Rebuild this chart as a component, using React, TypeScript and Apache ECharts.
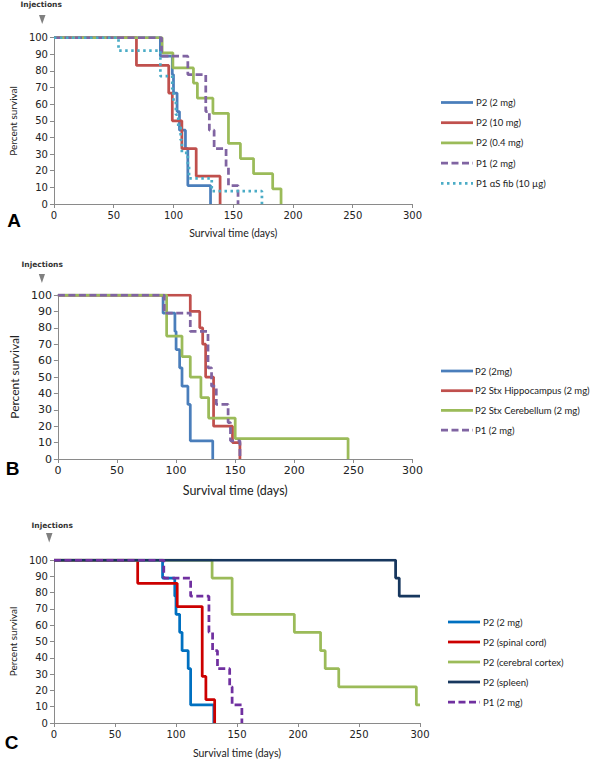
import React, { useEffect, useRef } from "react";
import * as echarts from "echarts";

// ---------- Data (event times in days, survival in %) ----------
const xTicks = [0, 50, 100, 150, 200, 250, 300];
const yTicks = [0, 10, 20, 30, 40, 50, 60, 70, 80, 90, 100];

// Shared P2 (2 mg) curve
const p2_2mg_t = [89, 99, 100, 103, 105, 110, 112, 131];
const p2_2mg_s = [88.9, 77.8, 66.7, 55.6, 44.4, 33.3, 11.1, 0];
// Shared P1 (2 mg) curve
const p1_2mg_t = [90, 112, 127, 130, 134, 144, 146, 154];
const p1_2mg_s = [88.9, 77.8, 55.6, 44.4, 33.3, 22.2, 11.1, 0];

// Panel A
const a_p2_10mg_t = [69, 96, 99, 107, 119, 139];
const a_p2_10mg_s = [83.3, 66.7, 50, 33.3, 16.7, 0];
const a_p2_04mg_t = [90.5, 99.5, 116.7, 120, 133, 146, 156, 167, 183, 190];
const a_p2_04mg_s = [90.9, 81.8, 72.7, 63.6, 54.5, 36.4, 27.3, 18.2, 9.1, 0];
const a_p1fib_t = [54, 89, 99, 100, 102, 104, 106, 107, 112, 113, 132, 174];
const a_p1fib_s = [92.3, 76.9, 69.2, 61.5, 53.8, 46.2, 38.5, 30.8, 23.1, 15.4, 7.7, 0];

// Panel B
const b_hippo_t = [112, 120, 122.5, 125, 131.7, 147.7, 154];
const b_hippo_s = [90, 80, 70, 50, 20, 10, 0];
const b_cereb_t = [92, 105, 112, 121, 127.5, 150, 245.5];
const b_cereb_s = [75, 62.5, 50, 37.5, 25, 12.5, 0];

// Panel C
const c_spinal_t = [68.6, 101, 121.5, 124.5, 131.7];
const c_spinal_s = [85.7, 71.4, 28.6, 14.3, 0];
const c_cortex_t = [129.6, 146, 197, 218.5, 222.3, 233.4, 297, 300];
const c_cortex_s = [88.9, 66.7, 55.6, 44.4, 33.3, 22.2, 11.1, 11.1];
const c_spleen_t = [280, 283, 300];
const c_spleen_s = [88.9, 77.8, 77.8];

const legendA = ["P2 (2 mg)", "P2 (10 mg)", "P2 (0.4 mg)", "P1 (2 mg)", "P1 \u03b1S fib (10 \u00b5g)"];
const legendB = ["P2 (2mg)", "P2 Stx Hippocampus (2 mg)", "P2 Stx Cerebellum (2 mg)", "P1 (2 mg)"];
const legendC = ["P2 (2 mg)", "P2 (spinal cord)", "P2 (cerebral cortex)", "P2 (spleen)", "P1 (2 mg)"];

// ---------- Styles ----------
const colA = ["#4A7EBB", "#C0504D", "#9BBB59", "#8064A2", "#4BACC6"];
const colB = ["#4A7EBB", "#C0504D", "#9BBB59", "#8064A2"];
const colC = ["#0070C0", "#CC0000", "#9BBB59", "#17375E", "#7030A0"];
const W = 2.75;
const DASH = [7, 3.5];
const DOT = [2.5, 3.5];

function steps(t: number[], s: number[]) {
  return [[0, 100], ...t.map((v, i) => [v, s[i]])];
}

export default function App() {
  const ref = useRef<HTMLDivElement>(null);
  useEffect(() => {
    if (!ref.current) return;
    const chart = echarts.init(ref.current, null, { renderer: "svg" });

    const grids = [
      { left: 41.3, top: 37.7, width: 371.2, height: 166.3 },
      { left: 41.3, top: 295, width: 371.2, height: 164 },
      { left: 48.3, top: 560, width: 371.7, height: 163.3 },
    ];
    const tickFont = [10, 11, 10];
    const titleFont = [10.5, 12.5, 10.5];
    const yTitleFont = [10, 12, 10];
    const xGap = [23, 24.5, 24];
    const yGap = [30, 28, 29];

    const xAxes = grids.map((_, i) => ({
      type: "value",
      gridIndex: i,
      min: xTicks[0],
      max: xTicks[xTicks.length - 1],
      interval: 50,
      name: "Survival time (days)",
      nameLocation: "middle",
      nameGap: xGap[i],
      nameTextStyle: { fontFamily: "Lato", fontSize: titleFont[i], color: "#222" },
      axisLine: { lineStyle: { color: "#8a8a8a", width: 1 } },
      axisTick: { show: true, length: 4, lineStyle: { color: "#8a8a8a" } },
      axisLabel: { fontFamily: "DejaVu Sans", fontSize: tickFont[i], color: "#222", margin: 6 },
      splitLine: { show: false },
    }));
    const yAxes = grids.map((_, i) => ({
      type: "value",
      gridIndex: i,
      min: yTicks[0],
      max: yTicks[yTicks.length - 1],
      interval: 10,
      name: "Percent survival",
      nameLocation: "middle",
      nameGap: yGap[i],
      nameTextStyle: { fontFamily: "Lato", fontSize: yTitleFont[i], color: "#222" },
      axisLine: { show: true, lineStyle: { color: "#8a8a8a", width: 1 } },
      axisTick: { show: true, length: 4, lineStyle: { color: "#8a8a8a" } },
      axisLabel: { fontFamily: "DejaVu Sans", fontSize: tickFont[i], color: "#222", margin: 6 },
      splitLine: { show: false },
    }));

    const mk = (name: string, idx: number, data: number[][], color: string, type: any) => ({
      name,
      type: "line",
      step: "end",
      xAxisIndex: idx,
      yAxisIndex: idx,
      data,
      symbol: "none",
      showSymbol: false,
      clip: true,
      lineStyle: { color, width: W, type, cap: "butt" },
      silent: true,
    });

    const series = [
      mk(legendA[0], 0, steps(p2_2mg_t, p2_2mg_s), colA[0], "solid"),
      mk(legendA[1], 0, steps(a_p2_10mg_t, a_p2_10mg_s), colA[1], "solid"),
      mk(legendA[2], 0, steps(a_p2_04mg_t, a_p2_04mg_s), colA[2], "solid"),
      mk(legendA[3], 0, steps(p1_2mg_t, p1_2mg_s), colA[3], DASH),
      mk(legendA[4], 0, steps(a_p1fib_t, a_p1fib_s), colA[4], DOT),

      mk(legendB[0], 1, steps(p2_2mg_t, p2_2mg_s), colB[0], "solid"),
      mk(legendB[1], 1, steps(b_hippo_t, b_hippo_s), colB[1], "solid"),
      mk(legendB[2], 1, steps(b_cereb_t, b_cereb_s), colB[2], "solid"),
      mk(legendB[3], 1, steps(p1_2mg_t, p1_2mg_s), colB[3], DASH),

      mk(legendC[0], 2, steps(p2_2mg_t, p2_2mg_s), colC[0], "solid"),
      mk(legendC[1], 2, steps(c_spinal_t, c_spinal_s), colC[1], "solid"),
      mk(legendC[2], 2, steps(c_cortex_t, c_cortex_s), colC[2], "solid"),
      mk(legendC[3], 2, steps(c_spleen_t, c_spleen_s), colC[3], "solid"),
      mk(legendC[4], 2, steps(p1_2mg_t, p1_2mg_s), colC[4], DASH),
    ];

    const graphic: any[] = [];
    const legendBlock = (
      names: string[],
      colors: string[],
      dashes: any[],
      x1: number,
      x2: number,
      tx: number,
      y0: number,
      dy: number
    ) => {
      names.forEach((n, i) => {
        const y = y0 + i * dy;
        graphic.push({
          type: "line",
          shape: { x1, y1: y, x2, y2: y },
          style: { stroke: colors[i], lineWidth: W, lineDash: dashes[i] || null },
          silent: true,
        });
        graphic.push({
          type: "text",
          x: tx,
          y,
          style: {
            text: n,
            font: '9.5px "Lato"',
            fill: "#222",
            textVerticalAlign: "middle",
            verticalAlign: "middle",
          },
          silent: true,
        });
      });
    };
    legendBlock(legendA, colA, [null, null, null, DASH, DOT], 441, 473, 476, 102.5, 20.2);
    legendBlock(legendB, colB, [null, null, null, DASH], 441, 473, 475, 371, 19.7);
    legendBlock(legendC, colC, [null, null, null, null, DASH], 448, 480, 483, 622, 20);

    // Injection markers
    const inj = [
      { tx: 20.5, ty: 4.5, tri: [[39, 15], [45.5, 15], [42.2, 24]] },
      { tx: 21.5, ty: 264, tri: [[38.8, 274], [45, 274], [41.9, 283]] },
      { tx: 31.5, ty: 525, tri: [[46, 533], [52.5, 533], [49.2, 542.5]] },
    ];
    inj.forEach((m) => {
      graphic.push({
        type: "text",
        x: m.tx,
        y: m.ty,
        style: {
          text: "Injections",
          font: 'bold 7.5px "DejaVu Sans"',
          fill: "#333",
          verticalAlign: "middle",
          textVerticalAlign: "middle",
        },
        silent: true,
      });
      graphic.push({
        type: "polygon",
        shape: { points: m.tri },
        style: { fill: "#808080" },
        silent: true,
      });
    });

    // Panel letters
    [
      { t: "A", x: 14, y: 220 },
      { t: "B", x: 12.5, y: 468.5 },
      { t: "C", x: 11.5, y: 742 },
    ].forEach((l) => {
      graphic.push({
        type: "text",
        x: l.x,
        y: l.y,
        style: {
          text: l.t,
          font: 'bold 19px "Liberation Sans"',
          fill: "#000",
          align: "center",
          textAlign: "center",
          verticalAlign: "middle",
          textVerticalAlign: "middle",
        },
        silent: true,
      });
    });

    chart.setOption({
      animation: false,
      backgroundColor: "#ffffff",
      grid: grids,
      xAxis: xAxes,
      yAxis: yAxes,
      series,
      graphic,
    });
    return () => chart.dispose();
  }, []);

  return (
    <div
      ref={ref}
      style={{ position: "absolute", left: 0, top: 0, width: 600, height: 759 }}
    />
  );
}
